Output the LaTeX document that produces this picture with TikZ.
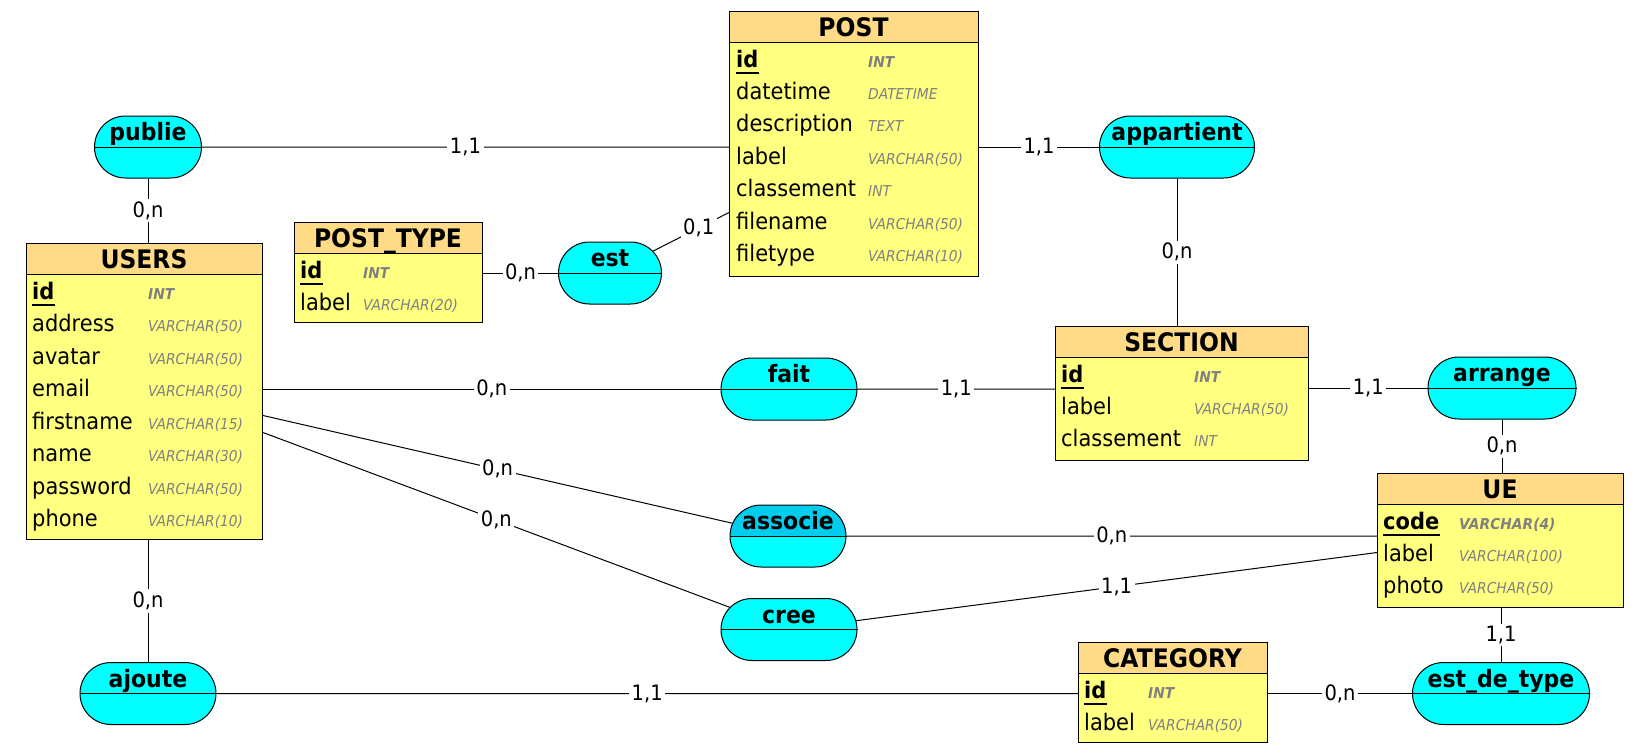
\documentclass[tikz,border=0pt]{standalone}
\usepackage{fontspec}
\setmainfont{DejaVu Sans}[FakeStretch=0.92]
\usetikzlibrary{shapes.misc,calc}
\definecolor{hdr}{HTML}{FFDB87}
\definecolor{bdy}{HTML}{FFFF80}
\definecolor{relc}{HTML}{00FFFF}
\definecolor{relsel}{HTML}{00CCEE}
\definecolor{typc}{HTML}{808080}
\tikzset{
  ebox/.style={draw=black, line width=1pt, fill=bdy, inner sep=0pt, anchor=north west, minimum height=#1},
  hbox/.style={draw=black, line width=1pt, fill=hdr, inner sep=0pt, anchor=north west, minimum height=31pt},
  etitle/.style={anchor=base, inner sep=0pt, font=\bfseries\fontsize{25.5}{26}\selectfont},
  attr/.style={anchor=base west, inner sep=0pt, font=\fontsize{22.8}{23}\selectfont},
  pk/.style={anchor=base west, inner sep=0pt, font=\bfseries\fontsize{22.8}{23}\selectfont},
  atype/.style={anchor=base west, inner sep=0pt, text=typc, font=\itshape\fontsize{15}{15}\selectfont},
  pktype/.style={anchor=base west, inner sep=0pt, text=typc, font=\bfseries\itshape\fontsize{15}{15}\selectfont},
  pkline/.style={line width=1.3pt},
  relbox/.style={rounded rectangle, draw=black, line width=1pt, fill=relc, inner sep=0pt, minimum height=62pt, minimum width=#1},
  relname/.style={anchor=base, inner sep=0pt, font=\bfseries\fontsize{23.9}{24}\selectfont},
  midl/.style={line width=1pt},
  conn/.style={line width=1pt},
  card/.style={fill=white, inner sep=2.5pt, font=\fontsize{21.2}{21}\selectfont}
}
\begin{document}
\begin{tikzpicture}[x=1pt,y=-1pt]
\useasboundingbox (0,0) rectangle (1650,755);

% ---------- POST ----------
\node[ebox=265pt, minimum width=249pt] (POST) at (729,11) {};
\node[hbox, minimum width=249pt] (POST-h) at (729,11) {};
\node[etitle] (POST-ti) at (853.5,36) {POST};
\node[pk] (POST-n0) at (736,67) {id};
\node[pktype] (POST-t0) at (868,67) {INT};
\draw[pkline] ([yshift=-6pt]POST-n0.base west) -- ([yshift=-6pt]POST-n0.base east);
\foreach \n/\t [count=\i] in {datetime/DATETIME,description/TEXT,label/VARCHAR(50),classement/INT,filename/VARCHAR(50),filetype/VARCHAR(10)}
  {\node[attr] (POST-n\i) at (736,67+32.4*\i) {\n};
   \node[atype] (POST-t\i) at (868,67+32.4*\i) {\t};}

% ---------- USERS ----------
\node[ebox=296pt, minimum width=236pt] (USERS) at (26,243) {};
\node[hbox, minimum width=236pt] (USERS-h) at (26,243) {};
\node[etitle] (USERS-ti) at (144,268) {USERS};
\node[pk] (USERS-n0) at (32,299) {id};
\node[pktype] (USERS-t0) at (148,299) {INT};
\draw[pkline] ([yshift=-6pt]USERS-n0.base west) -- ([yshift=-6pt]USERS-n0.base east);
\foreach \n/\t [count=\i] in {address/VARCHAR(50),avatar/VARCHAR(50),email/VARCHAR(50),firstname/VARCHAR(15),name/VARCHAR(30),password/VARCHAR(50),phone/VARCHAR(10)}
  {\node[attr] (USERS-n\i) at (32,299+32.5*\i) {\n};
   \node[atype] (USERS-t\i) at (148,299+32.5*\i) {\t};}

% ---------- POST_TYPE ----------
\node[ebox=100pt, minimum width=188pt] (posttype) at (294,222) {};
\node[hbox, minimum width=188pt] (posttype-h) at (294,222) {};
\node[etitle] (posttype-ti) at (388,247) {POST\_TYPE};
\node[pk] (posttype-n0) at (300,278) {id};
\node[pktype] (posttype-t0) at (363,278) {INT};
\draw[pkline] ([yshift=-6pt]posttype-n0.base west) -- ([yshift=-6pt]posttype-n0.base east);
\node[attr] (posttype-n1) at (300,310.4) {label};
\node[atype] (posttype-t1) at (363,310.4) {VARCHAR(20)};

% ---------- SECTION ----------
\node[ebox=134pt, minimum width=253pt] (SECTION) at (1055,326) {};
\node[hbox, minimum width=253pt] (SECTION-h) at (1055,326) {};
\node[etitle] (SECTION-ti) at (1181.5,351) {SECTION};
\node[pk] (SECTION-n0) at (1061,382) {id};
\node[pktype] (SECTION-t0) at (1194,382) {INT};
\draw[pkline] ([yshift=-6pt]SECTION-n0.base west) -- ([yshift=-6pt]SECTION-n0.base east);
\node[attr] (SECTION-n1) at (1061,414.4) {label};
\node[atype] (SECTION-t1) at (1194,414.4) {VARCHAR(50)};
\node[attr] (SECTION-n2) at (1061,446.8) {classement};
\node[atype] (SECTION-t2) at (1194,446.8) {INT};

% ---------- UE ----------
\node[ebox=134pt, minimum width=246pt] (UE) at (1377,473) {};
\node[hbox, minimum width=246pt] (UE-h) at (1377,473) {};
\node[etitle] (UE-ti) at (1500,498) {UE};
\node[pk] (UE-n0) at (1383,529) {code};
\node[pktype] (UE-t0) at (1459,529) {VARCHAR(4)};
\draw[pkline] ([yshift=-6pt]UE-n0.base west) -- ([yshift=-6pt]UE-n0.base east);
\node[attr] (UE-n1) at (1383,561.4) {label};
\node[atype] (UE-t1) at (1459,561.4) {VARCHAR(100)};
\node[attr] (UE-n2) at (1383,593.8) {photo};
\node[atype] (UE-t2) at (1459,593.8) {VARCHAR(50)};

% ---------- CATEGORY ----------
\node[ebox=100pt, minimum width=189pt] (CATEGORY) at (1078,642) {};
\node[hbox, minimum width=189pt] (CATEGORY-h) at (1078,642) {};
\node[etitle] (CATEGORY-ti) at (1172.5,667) {CATEGORY};
\node[pk] (CATEGORY-n0) at (1084,698) {id};
\node[pktype] (CATEGORY-t0) at (1148,698) {INT};
\draw[pkline] ([yshift=-6pt]CATEGORY-n0.base west) -- ([yshift=-6pt]CATEGORY-n0.base east);
\node[attr] (CATEGORY-n1) at (1084,730.4) {label};
\node[atype] (CATEGORY-t1) at (1148,730.4) {VARCHAR(50)};

% ---------- relationships ----------
\node[relbox=107pt] (publie) at (148,147) {};
\node[relbox=155pt] (appartient) at (1177,147) {};
\node[relbox=103pt] (est) at (610,273) {};
\node[relbox=136pt] (fait) at (789,389) {};
\node[relbox=148pt] (arrange) at (1502,388) {};
\node[relbox=116pt, path picture={\fill[relsel] (path picture bounding box.north west) rectangle (path picture bounding box.east);}] (associe) at (788,536) {};
\node[relbox=136pt] (cree) at (789,629.5) {};
\node[relbox=136pt] (ajoute) at (148,693.5) {};
\node[relbox=177pt] (estdetype) at (1501,693.5) {};

\foreach \r in {publie,appartient,est,fait,arrange,associe,cree,ajoute,estdetype}
  {\draw[midl] (\r.west) -- (\r.east);}

\node[relname] (publie-t) at ([yshift=6.5pt]publie.center) {publie};
\node[relname] (appartient-t) at ([yshift=6.5pt]appartient.center) {appartient};
\node[relname] (est-t) at ([yshift=6.5pt]est.center) {est};
\node[relname] (fait-t) at ([yshift=6.5pt]fait.center) {fait};
\node[relname] (arrange-t) at ([yshift=6.5pt]arrange.center) {arrange};
\node[relname] (associe-t) at ([yshift=6.5pt]associe.center) {associe};
\node[relname] (cree-t) at ([yshift=6.5pt]cree.center) {cree};
\node[relname] (ajoute-t) at ([yshift=6.5pt]ajoute.center) {ajoute};
\node[relname] (estdetype-t) at ([yshift=6.5pt]estdetype.center) {est\_de\_type};

% ---------- connectors ----------
\draw[conn] (publie) -- node[card] (c1) {1,1} (publie -| POST.west);
\draw[conn] (publie) -- node[card] (c2) {0,n} (publie |- USERS.north);
\draw[conn] (appartient) -- node[card] (c3) {1,1} (appartient -| POST.east);
\draw[conn] (appartient) -- node[card] (c4) {0,n} (appartient |- SECTION.north);
\draw[conn] (est) -- node[card] (c5) {0,n} (est -| posttype.east);
\draw[conn] (est) -- node[card, pos=0.6] (c6) {0,1} ([yshift=-68.5pt]POST.west);
\draw[conn] (fait) -- node[card] (c7) {0,n} (fait -| USERS.east);
\draw[conn] (fait) -- node[card] (c8) {1,1} (fait -| SECTION.west);
\draw[conn] (arrange) -- node[card] (c9) {1,1} (arrange -| SECTION.east);
\draw[conn] (arrange) -- node[card] (c10) {0,n} (arrange |- UE.north);
\draw[conn] ([yshift=-24pt]USERS.east) -- node[card] (c11) {0,n} (associe);
\draw[conn] (associe) -- node[card] (c12) {0,n} (associe -| UE.west);
\draw[conn] ([yshift=-41pt]USERS.east) -- node[card] (c13) {0,n} (cree);
\draw[conn] (cree) -- node[card] (c14) {1,1} ([yshift=-12pt]UE.west);
\draw[conn] (estdetype) -- node[card] (c15) {1,1} (estdetype |- UE.south);
\draw[conn] (estdetype) -- node[card] (c16) {0,n} (estdetype -| CATEGORY.east);
\draw[conn] (ajoute) -- node[card] (c17) {1,1} (ajoute -| CATEGORY.west);
\draw[conn] (ajoute) -- node[card] (c18) {0,n} (ajoute |- USERS.south);
\end{tikzpicture}
\end{document}
